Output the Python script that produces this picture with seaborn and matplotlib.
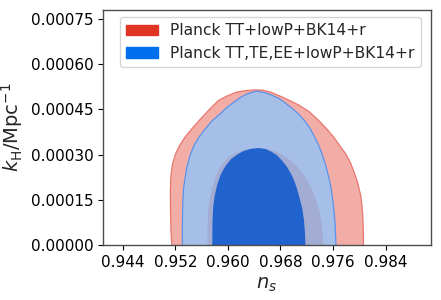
import matplotlib
matplotlib.use("Agg")
import matplotlib.pyplot as plt
import seaborn as sns
from matplotlib.patches import Patch
from matplotlib.ticker import FormatStrFormatter

# contour outlines (n_s, k_H), bottom-left -> top -> bottom-right
# Planck TT+lowP+BK14+r
tt_outer_ns = [0.95146, 0.95132, 0.95125, 0.95123, 0.95132, 0.95158, 0.95203, 0.95263, 0.95346, 0.95452,
               0.95573, 0.95709, 0.95852, 0.95980, 0.96127, 0.96252, 0.96403, 0.96524, 0.96655, 0.96826,
               0.96962, 0.97082, 0.97233, 0.97384, 0.97505, 0.97611, 0.97701, 0.97792, 0.97860, 0.97912,
               0.97958, 0.97992, 0.98021, 0.98038, 0.98053, 0.98060, 0.98063]
tt_outer_kh = [0.0, 0.0000487, 0.000115, 0.000181, 0.000231, 0.000271, 0.000303, 0.000330, 0.000358, 0.000386,
               0.000416, 0.000448, 0.000479, 0.000494, 0.000507, 0.000512, 0.0005145, 0.000514, 0.000507, 0.000491,
               0.000477, 0.000464, 0.000443, 0.000413, 0.000385, 0.000358, 0.000330, 0.000303, 0.000276, 0.000247,
               0.000219, 0.000192, 0.000165, 0.000137, 0.0000983, 0.0000553, 0.0]
tt_inner_ns = [0.95686, 0.95689, 0.95701, 0.95731, 0.95777, 0.95837, 0.95905, 0.95995, 0.96101, 0.96222,
               0.96358, 0.96494, 0.96599, 0.96705, 0.96826, 0.96946, 0.97052, 0.97143, 0.97216, 0.97286,
               0.97346, 0.97392, 0.97425, 0.97445, 0.97452]
tt_inner_kh = [0.0, 0.0000652, 0.000125, 0.000165, 0.000204, 0.000241, 0.000267, 0.000289, 0.000304, 0.000314,
               0.000319, 0.000320, 0.000319, 0.000312, 0.000300, 0.000282, 0.000261, 0.000237, 0.000211, 0.000181,
               0.000148, 0.000115, 0.0000752, 0.0000387, 0.0]

# Planck TT,TE,EE+lowP+BK14+r
all_outer_ns = [0.95306, 0.95306, 0.95310, 0.95324, 0.95346, 0.95377, 0.95422, 0.95482, 0.95565, 0.95656,
                0.95762, 0.95875, 0.95996, 0.96102, 0.96207, 0.96313, 0.96433, 0.96554, 0.96679, 0.96780,
                0.96886, 0.96991, 0.97082, 0.97173, 0.97248, 0.97309, 0.97369, 0.97422, 0.97467, 0.97505,
                0.97543, 0.97573, 0.97598, 0.97618, 0.97633, 0.97645]
all_outer_kh = [0.0, 0.0000652, 0.000131, 0.000188, 0.000221, 0.000261, 0.000297, 0.000330, 0.000360, 0.000386,
                0.000413, 0.000434, 0.000459, 0.000476, 0.000492, 0.000503, 0.000511, 0.000506, 0.000496, 0.000486,
                0.000469, 0.000451, 0.000433, 0.000411, 0.000388, 0.000363, 0.000337, 0.000309, 0.000280, 0.000251,
                0.000218, 0.000185, 0.000148, 0.000108, 0.0000652, 0.0]
all_inner_ns = [0.95762, 0.95763, 0.95774, 0.95799, 0.95837, 0.95890, 0.95958, 0.96041, 0.96139, 0.96237,
                0.96343, 0.96463, 0.96569, 0.96660, 0.96751, 0.96826, 0.96901, 0.96962, 0.97014, 0.97060,
                0.97097, 0.97131, 0.97158, 0.97173, 0.97180]
all_inner_kh = [0.0, 0.0000652, 0.000125, 0.000165, 0.000201, 0.000234, 0.000261, 0.000284, 0.000300, 0.000312,
                0.000319, 0.000322, 0.000319, 0.000310, 0.000297, 0.000280, 0.000259, 0.000236, 0.000211, 0.000181,
                0.000151, 0.000122, 0.0000818, 0.000042, 0.0]

labels = ["Planck TT+lowP+BK14+r", "Planck TT,TE,EE+lowP+BK14+r"]
x_ticks = [0.944, 0.952, 0.960, 0.968, 0.976, 0.984]
y_ticks = [0.0, 0.00015, 0.0003, 0.00045, 0.0006, 0.00075]

sns.set_style("ticks")
plt.rcParams["font.family"] = ["DejaVu Sans"]

fig = plt.figure(figsize=(4.41, 3.0), dpi=100)
ax = fig.add_axes([0.234, 0.183, 0.743, 0.784])

red, blue = "#E03424", "#006FED"

# red contours first (opaque), blue on top with alpha
ax.fill(tt_outer_ns, tt_outer_kh, color="#F2ADA7", lw=0)
sns.lineplot(x=tt_outer_ns, y=tt_outer_kh, sort=False, estimator=None, color="#E8766E", lw=0.9, ax=ax)
ax.fill(tt_inner_ns, tt_inner_kh, color=red, lw=0)

ax.fill(all_outer_ns, all_outer_kh, color="#99C3F4", alpha=0.85, lw=0)
sns.lineplot(x=all_outer_ns, y=all_outer_kh, sort=False, estimator=None, color="#5B93E8", lw=0.9, ax=ax)
ax.fill(all_inner_ns, all_inner_kh, color="#2063CC", lw=0)

ax.set_xlim(0.941, 0.9909)
ax.set_ylim(0, 0.00078)
ax.set_xticks(x_ticks)
ax.set_yticks(y_ticks)
ax.xaxis.set_major_formatter(FormatStrFormatter("%.3f"))
ax.yaxis.set_major_formatter(FormatStrFormatter("%.5f"))
ax.tick_params(labelsize=11, colors="black")
for s in ax.spines.values():
    s.set_color("0.3")
    s.set_linewidth(1.0)

ax.set_xlabel(r"$n_s$", fontsize=14)
ax.set_ylabel(r"$k_{\rm H}/{\rm Mpc}^{-1}$", fontsize=14)

handles = [Patch(facecolor=red, edgecolor=red), Patch(facecolor=blue, edgecolor=blue)]
ax.legend(handles, labels, loc="upper left", fontsize=11.2, frameon=True,
          bbox_to_anchor=(0.052, 0.969), borderaxespad=0)

fig.savefig("out.png", dpi=100)
